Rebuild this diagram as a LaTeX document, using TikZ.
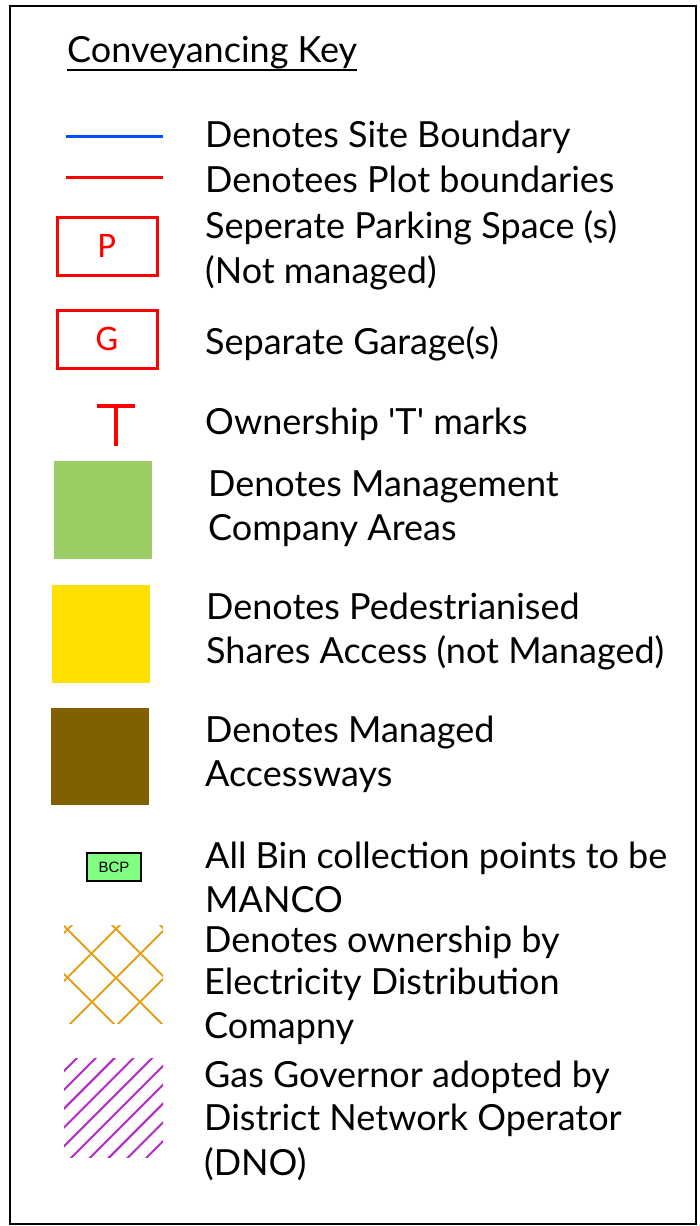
\documentclass[tikz,border=0pt]{standalone}
\usepackage{fontspec}
\setmainfont{Lato}
\newfontfamily\boxfont{Carlito}
\newfontfamily\binfont{Liberation Sans}
\definecolor{siteblue}{RGB}{0,80,255}
\definecolor{plotred}{RGB}{255,0,0}
\definecolor{mancogreen}{RGB}{155,205,100}
\definecolor{pedyellow}{RGB}{255,224,0}
\definecolor{accbrown}{RGB}{128,96,0}
\definecolor{bcpgreen}{RGB}{128,255,128}
\definecolor{elecorange}{RGB}{230,160,30}
\definecolor{gaspurple}{RGB}{180,40,200}
\tikzset{
  keytext/.style={anchor=base west, inner sep=0pt, font=\fontsize{36}{40}\selectfont},
  plotbox/.style={draw=plotred, line width=3pt, minimum width=100pt, minimum height=58pt,
    text=plotred, inner sep=0pt, font=\boxfont\fontsize{36}{40}\selectfont}
}
\begin{document}
\begin{tikzpicture}[x=1pt,y=-1pt]
  \useasboundingbox (0,0) rectangle (700,1226);
  \draw[line width=1.5pt] (10,6) rectangle (696,1224);

  % title
  \node[keytext] (title) at (67,62) {Conveyancing Key};
  \draw[line width=1.2pt] ([yshift=-8pt]title.base west) -- ([yshift=-8pt]title.base east);

  % boundaries
  \draw[siteblue, line width=3pt] (66,136) -- (163,136);
  \draw[plotred, line width=3pt] (66,177) -- (163,177);
  \node[keytext] (sitelbl) at (205,147) {Denotes Site Boundary};
  \node[keytext] (plotlbl) at (205,192) {Denotees Plot boundaries};

  % parking and garages
  \node[plotbox] (pbox) at (107,246) {P};
  \node[keytext] (parkA) at (205,238) {Seperate Parking Space (s)};
  \node[keytext] (parkB) at (205,283) {(Not managed)};
  \node[plotbox] (gbox) at (107,339) {G};
  \node[keytext] (garage) at (205,354) {Separate Garage(s)};

  % T mark
  \draw[plotred, line width=3.5pt] (97,406) -- (135,406);
  \draw[plotred, line width=3.5pt] (116,406) -- (116,446);
  \node[keytext] (tmark) at (205,434) {Ownership \textquotesingle T\textquotesingle\ marks};

  % filled areas
  \fill[mancogreen] (54,461) rectangle (152,559);
  \node[keytext] (mgmtA) at (208,496) {Denotes Management};
  \node[keytext] (mgmtB) at (208,540) {Company Areas};
  \fill[pedyellow] (52,585) rectangle (150,683);
  \node[keytext] (pedA) at (206,619) {Denotes Pedestrianised};
  \node[keytext] (pedB) at (206,663) {Shares Access (not Managed)};
  \fill[accbrown] (51,708) rectangle (149,805);
  \node[keytext] (accA) at (205,742) {Denotes Managed};
  \node[keytext] (accB) at (205,786) {Accessways};

  % bin collection
  \node[draw, line width=1.5pt, fill=bcpgreen, minimum width=54pt, minimum height=28pt,
    inner sep=0pt, font=\binfont\fontsize{15}{16}\selectfont] (bcp) at (114,867) {BCP};
  \node[keytext] (binA) at (205,868) {All Bin collection points to be};
  \node[keytext] (binB) at (205,912) {MANCO};

  % electricity crosshatch
  \begin{scope}
    \clip (64,925) rectangle (163,1023);
    \foreach \c in {997,1045,1094,1142}
      \draw[elecorange, line width=2pt] ({\c-900},900) -- ({\c-1050},1050);
    \foreach \d in {-910,-862,-813,-765}
      \draw[elecorange, line width=2pt] ({\d+900},900) -- ({\d+1050},1050);
  \end{scope}
  \node[keytext] (elecA) at (204,952) {Denotes ownership by};
  \node[keytext] (elecB) at (204,994) {Electricity Distribution};
  \node[keytext] (elecC) at (204,1038) {Comapny};

  % gas governor hatch
  \begin{scope}
    \clip (64,1058) rectangle (163,1157);
    \foreach \k in {0,...,9}
      \draw[gaspurple, line width=2pt] ({1135+18.8*\k-1040},1040) -- ({1135+18.8*\k-1180},1180);
  \end{scope}
  \node[keytext] (gasA) at (204,1087) {Gas Governor adopted by};
  \node[keytext] (gasB) at (204,1130) {District Network Operator};
  \node[keytext] (gasC) at (204,1175) {(DNO)};
\end{tikzpicture}
\end{document}
